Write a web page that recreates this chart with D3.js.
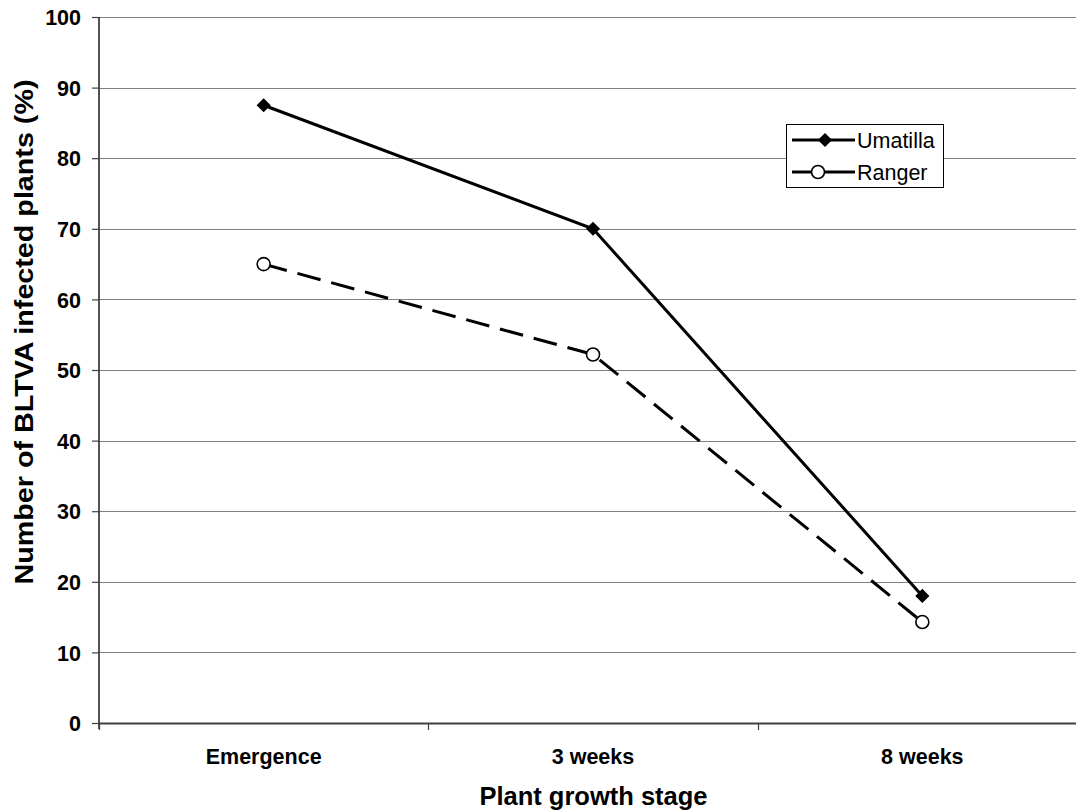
<!DOCTYPE html>
<html>
<head>
<meta charset="utf-8">
<script src="https://cdn.jsdelivr.net/npm/d3@7"></script>
<style>
  body { margin: 0; background: #fff; }
  svg { display: block; font-family: "Liberation Sans", Arial, sans-serif; }
</style>
</head>
<body>
<svg id="chart" width="1076" height="811"></svg>
<script>
var categories = ["Emergence", "3 weeks", "8 weeks"];
var umatilla = [87.5, 70, 18];
var ranger = [65, 52.2, 14.3];
var yTicks = [0, 10, 20, 30, 40, 50, 60, 70, 80, 90, 100];

var svg = d3.select("#chart");
// plot box (note: "top" is taken by window.top, so prefix these)
var plotLeft = 99, plotRight = 1087, plotTop = 17, plotBottom = 723;

var x = d3.scaleBand().domain(categories).range([plotLeft, plotRight]).paddingInner(0).paddingOuter(0);
var y = d3.scaleLinear().domain([0, 100]).range([plotBottom, plotTop]);
var cx = function(c) { return x(c) + x.bandwidth() / 2; };

// gridlines
svg.append("g")
  .selectAll("line")
  .data(yTicks.filter(function(d) { return d > 0; }))
  .join("line")
    .attr("x1", plotLeft).attr("x2", 1076)
    .attr("y1", function(d) { return Math.round(y(d)) + 0.5; })
    .attr("y2", function(d) { return Math.round(y(d)) + 0.5; })
    .attr("stroke", "#808080")
    .attr("stroke-width", 1.2);

// y axis
var yAxis = d3.axisLeft(y).tickValues(yTicks).tickSize(7).tickPadding(11).tickFormat(d3.format("d"));
var gy = svg.append("g").attr("transform", "translate(" + plotLeft + ",0)").call(yAxis);
gy.select(".domain").attr("stroke", "#404040").attr("stroke-width", 1.8).attr("d", "M0," + plotTop + "V" + (plotBottom + 6));
gy.selectAll(".tick line").attr("stroke", "#404040").attr("stroke-width", 1.2);
gy.selectAll(".tick text")
  .attr("font-family", "Liberation Sans, Arial, sans-serif")
  .attr("font-size", 21.5).attr("font-weight", "bold").attr("fill", "#000")
  .attr("dy", "0.36em");

// x axis line and tick marks at category boundaries
svg.append("line")
  .attr("x1", plotLeft).attr("x2", 1076)
  .attr("y1", plotBottom + 0.5).attr("y2", plotBottom + 0.5)
  .attr("stroke", "#404040").attr("stroke-width", 1.8);
svg.append("g")
  .selectAll("line")
  .data(categories)
  .join("line")
    .attr("x1", function(d) { return Math.round(x(d)) + 0.5; })
    .attr("x2", function(d) { return Math.round(x(d)) + 0.5; })
    .attr("y1", plotBottom).attr("y2", plotBottom + 7)
    .attr("stroke", "#404040").attr("stroke-width", 1.2);

svg.append("g")
  .selectAll("text")
  .data(categories)
  .join("text")
    .attr("x", cx)
    .attr("y", 764)
    .attr("text-anchor", "middle")
    .attr("font-size", 21.5).attr("font-weight", "bold")
    .text(function(d) { return d; });

// axis titles
svg.append("text")
  .attr("x", 593.5).attr("y", 805)
  .attr("text-anchor", "middle")
  .attr("font-size", 25.5).attr("font-weight", "bold")
  .text("Plant growth stage");

svg.append("text")
  .attr("transform", "translate(33,332) rotate(-90)")
  .attr("text-anchor", "middle")
  .attr("font-size", 25.5).attr("font-weight", "bold")
  .attr("textLength", 505).attr("lengthAdjust", "spacingAndGlyphs")
  .text("Number of BLTVA infected plants (%)");

// series
var line = d3.line()
  .x(function(d, i) { return cx(categories[i]); })
  .y(function(d) { return y(d); });

svg.append("path")
  .datum(ranger)
  .attr("d", line)
  .attr("fill", "none").attr("stroke", "#000").attr("stroke-width", 3)
  .attr("stroke-dasharray", "24,11");

svg.append("path")
  .datum(umatilla)
  .attr("d", line)
  .attr("fill", "none").attr("stroke", "#000").attr("stroke-width", 3);

var diamond = d3.symbol().type(d3.symbolSquare).size(100);

svg.append("g")
  .selectAll("path")
  .data(umatilla)
  .join("path")
    .attr("d", diamond)
    .attr("transform", function(d, i) { return "translate(" + cx(categories[i]) + "," + y(d) + ") rotate(45)"; })
    .attr("fill", "#000");

svg.append("g")
  .selectAll("circle")
  .data(ranger)
  .join("circle")
    .attr("cx", function(d, i) { return cx(categories[i]); })
    .attr("cy", function(d) { return y(d); })
    .attr("r", 6.5)
    .attr("fill", "#fff").attr("stroke", "#000").attr("stroke-width", 1.6);

// legend
var lg = svg.append("g");
lg.append("rect")
  .attr("x", 786.5).attr("y", 124.5).attr("width", 157).attr("height", 63)
  .attr("fill", "#fff").attr("stroke", "#000").attr("stroke-width", 1);

lg.append("line").attr("x1", 792).attr("x2", 855).attr("y1", 140).attr("y2", 140)
  .attr("stroke", "#000").attr("stroke-width", 3);
lg.append("path").attr("d", diamond).attr("transform", "translate(825,140) rotate(45)").attr("fill", "#000");
lg.append("text").attr("x", 857).attr("y", 148).attr("font-size", 21.5).text("Umatilla");

lg.append("line").attr("x1", 792).attr("x2", 855).attr("y1", 172).attr("y2", 172)
  .attr("stroke", "#000").attr("stroke-width", 3);
lg.append("circle").attr("cx", 818).attr("cy", 172).attr("r", 6.5)
  .attr("fill", "#fff").attr("stroke", "#000").attr("stroke-width", 1.6);
lg.append("text").attr("x", 857).attr("y", 180).attr("font-size", 21.5).text("Ranger");
</script>
</body>
</html>
